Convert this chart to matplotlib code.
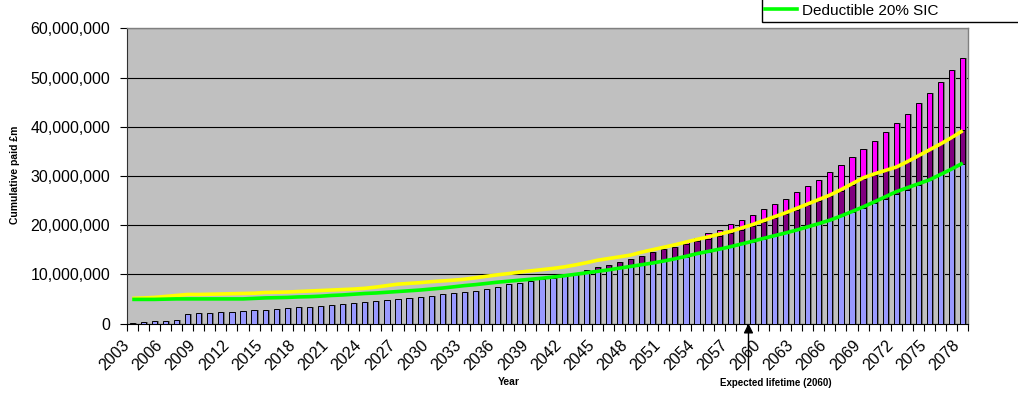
import matplotlib
matplotlib.use("Agg")
import matplotlib.pyplot as plt
from matplotlib.patches import Rectangle
from matplotlib.lines import Line2D
from matplotlib.ticker import FuncFormatter

plt.rcParams['font.family'] = ['Liberation Sans', 'DejaVu Sans']

years = list(range(2003, 2079))

# cumulative paid, in millions
base_paid = [0.2, 0.35, 0.45, 0.6, 0.8, 1.9, 2.1, 2.1, 2.3, 2.3,
             2.5, 2.7, 2.7, 2.9, 3.1, 3.3, 3.3, 3.5, 3.7, 3.9,
             4.1, 4.3, 4.5, 4.7, 4.9, 5.1, 5.4, 5.6, 6.0, 6.2,
             6.5, 6.7, 7.1, 7.5, 8.0, 8.2, 8.6, 9.0, 9.3, 9.8,
             10.3, 10.6, 10.9, 11.1, 11.4, 11.7, 12.0, 12.3, 12.7, 13.1,
             13.6, 14.1, 14.6, 15.1, 15.6, 16.1, 16.6, 17.2, 17.8, 18.4,
             19.0, 19.7, 20.3, 21.0, 21.8, 22.6, 23.5, 24.4, 25.3, 26.3,
             27.2, 28.2, 29.2, 30.3, 31.4, 32.5]

mid_paid = [0] * 41 + [
             10.8, 11.4, 11.95, 12.6, 13.2, 13.8, 14.5, 15.1, 15.6,
             16.2, 16.7, 17.2, 17.8, 18.4, 19.1, 19.8, 20.6, 21.4, 22.2,
             23.1, 24.0, 24.9, 25.9, 27.0, 28.1, 29.3, 30.2, 31.0, 31.8,
             32.9, 34.1, 35.3, 36.5, 37.8, 39.3]

top_paid = [0] * 50 + [
             16.5, 17.4, 18.3, 19.1, 20.2, 21.1, 22.05, 23.2, 24.2, 25.4,
             26.7, 27.9, 29.2, 30.7, 32.2, 33.8, 35.4, 37.0, 38.9, 40.7,
             42.6, 44.8, 46.8, 49.1, 51.5, 54.0]

yellow_line = [5.1, 5.2, 5.3, 5.5, 5.7, 5.9, 5.9, 5.95, 6.0, 6.05,
               6.1, 6.15, 6.3, 6.35, 6.4, 6.5, 6.6, 6.7, 6.8, 6.9,
               7.0, 7.15, 7.4, 7.7, 8.0, 8.15, 8.3, 8.5, 8.65, 8.8,
               9.0, 9.3, 9.6, 9.9, 10.15, 10.45, 10.7, 10.95, 11.2, 11.5,
               11.9, 12.35, 12.85, 13.2, 13.55, 13.9, 14.5, 15.0, 15.5, 16.0,
               16.55, 17.1, 17.6, 18.15, 18.7, 19.4, 20.1, 20.9, 21.7, 22.5,
               23.4, 24.3, 25.2, 26.1, 27.2, 28.4, 29.6, 30.4, 31.1, 31.8,
               32.9, 34.1, 35.3, 36.5, 37.8, 39.2]

deductible_20_sic = [4.9, 4.9, 4.9, 4.95, 5.0, 5.0, 5.0, 5.0, 5.0, 5.0,
                     5.0, 5.1, 5.2, 5.25, 5.3, 5.4, 5.45, 5.55, 5.7, 5.8,
                     5.95, 6.1, 6.2, 6.35, 6.5, 6.65, 6.8, 7.0, 7.2, 7.45,
                     7.7, 7.9, 8.15, 8.4, 8.6, 8.8, 9.0, 9.2, 9.45, 9.7,
                     10.0, 10.3, 10.6, 10.9, 11.25, 11.6, 11.95, 12.3, 12.7, 13.15,
                     13.65, 14.2, 14.65, 15.1, 15.6, 16.15, 16.7, 17.3, 17.85, 18.4,
                     19.0, 19.65, 20.3, 21.0, 21.85, 22.75, 23.7, 24.7, 25.75, 26.8,
                     27.6, 28.4, 29.2, 30.3, 31.4, 32.6]

fig = plt.figure(figsize=(10.18, 4.01), dpi=100)
ax = fig.add_axes([126.7 / 1018, 1 - 323.5 / 401, 841.6 / 1018, 295.2 / 401])
ax.set_facecolor('#C0C0C0')

w = 0.47
shift = 0.17
# bar shadows
for series in (top_paid, mid_paid, base_paid):
    ax.bar([y + shift for y in years], series, width=w, color='#787878',
           linewidth=0, zorder=2)
ax.bar(years, top_paid, width=w, color='#FF00FF', edgecolor='black', linewidth=0.7, zorder=3)
ax.bar(years, mid_paid, width=w, color='#800080', edgecolor='black', linewidth=0.7, zorder=4)
ax.bar(years, base_paid, width=w, color='#9999FF', edgecolor='black', linewidth=0.7, zorder=5)

ax.plot(years, yellow_line, color='#FFFF00', lw=2.6, zorder=6, solid_capstyle='butt')
ax.plot(years, deductible_20_sic, color='#00FF00', lw=2.6, zorder=7,
        solid_capstyle='butt')

ax.set_xlim(years[0] - 0.5, years[-1] + 0.5)
ax.set_ylim(0, 60)
ax.set_yticks(range(0, 61, 10))
ax.yaxis.set_major_formatter(FuncFormatter(lambda v, p: f"{v * 1e6:,.0f}"))
ax.tick_params(axis='y', length=5, width=0.8, pad=7, labelsize=11.5, color='black')
ax.grid(axis='y', color='black', lw=0.8)
ax.set_axisbelow(True)

ax.set_xticks(years[::3])
ax.set_xticklabels([str(y) for y in years[::3]], rotation=45, ha='right',
                   fontsize=11.5)
ax.set_xticks([y - 0.5 for y in years] + [years[-1] + 0.5], minor=True)
ax.tick_params(axis='x', which='major', length=0, pad=10)
ax.tick_params(axis='x', which='minor', length=5, width=0.8, color='black')

for side in ('top', 'right'):
    ax.spines[side].set_color('#808080')
    ax.spines[side].set_linewidth(1.0)
ax.spines['left'].set_color('#303030')
ax.spines['bottom'].set_color('black')

fig.text(509 / 1018, 1 - 382 / 401, 'Year', fontsize=7.5, fontweight='bold',
         ha='center', va='center')
fig.text(15 / 1018, 1 - 175 / 401, 'Cumulative paid £m', fontsize=7.5,
         fontweight='bold', rotation=90, ha='center', va='center')

# expected lifetime marker
ax.annotate('', xy=(2058.65, 0), xytext=(2058.65, -9.45), xycoords='data',
            annotation_clip=False,
            arrowprops=dict(arrowstyle='-|>', color='black', lw=1,
                            mutation_scale=14, shrinkA=0, shrinkB=0))
fig.text(776 / 1018, 1 - 383 / 401, 'Expected lifetime (2060)', fontsize=7,
         fontweight='bold', ha='center', va='center')

# legend box, runs off the top edge
fig.patches.append(Rectangle((761.7 / 1018, 1 - 22.3 / 401), 0.5, 0.5,
                             transform=fig.transFigure, facecolor='white',
                             edgecolor='black', lw=1, zorder=10))
leg = fig.legend(handles=[Line2D([], [], color='#00FF00', lw=2.6)],
                 labels=['Deductible 20% SIC'], loc='center left',
                 bbox_to_anchor=(765 / 1018, 1 - 10.7 / 401), frameon=False,
                 fontsize=11, handlelength=2.1, handletextpad=0.3, borderpad=0,
                 borderaxespad=0)
leg.set_zorder(20)

fig.savefig('out.png', dpi=100)
